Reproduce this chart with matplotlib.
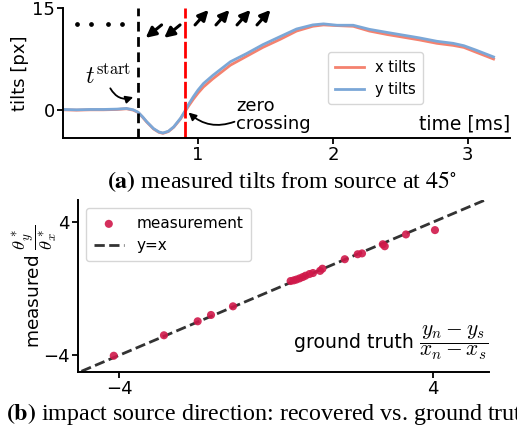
import matplotlib
matplotlib.use("Agg")
import matplotlib.pyplot as plt

plt.rcParams['font.family'] = ['DejaVu Sans']
plt.rcParams['mathtext.fontset'] = 'cm'

# ---- panel (a) data ----
time_ms = [0.0, 0.1, 0.2, 0.3, 0.4, 0.47, 0.52, 0.556, 0.59, 0.62, 0.67, 0.71, 0.74, 0.78, 0.82,
           0.87, 0.9, 0.93, 0.965, 1.0, 1.04, 1.11, 1.24, 1.36, 1.48, 1.61, 1.73, 1.85, 1.93,
           2.03, 2.15, 2.27, 2.40, 2.52, 2.64, 2.77, 2.89, 2.97, 3.06, 3.19]
y_tilts = [0.1, 0.05, 0.1, 0.1, 0.15, 0.25, 0.05, -0.3, -1.0, -1.7, -2.7, -3.2, -3.35, -3.1, -2.45,
           -1.2, -0.25, 0.85, 1.96, 2.95, 3.9, 5.1, 7.1, 8.3, 9.6, 10.8, 11.9, 12.5, 12.65,
           12.45, 12.45, 11.85, 11.4, 11.0, 10.6, 10.1, 9.8, 9.45, 8.8, 7.8]
x_tilts = [0.05, 0.0, 0.05, 0.05, 0.1, 0.2, 0.0, -0.35, -1.05, -1.75, -2.75, -3.25, -3.4, -3.15, -2.5,
           -1.3, -0.35, 0.6, 1.6, 2.5, 3.4, 4.6, 6.6, 7.9, 9.2, 10.4, 11.6, 12.3, 12.5,
           12.4, 12.3, 11.6, 11.1, 10.7, 10.3, 9.8, 9.5, 9.2, 8.5, 7.5]
t_start = 0.556
t_zero = 0.9
dots_t = [0.10, 0.21, 0.33, 0.44]
dots_level = 12.6
down_tails_t = [0.73, 0.867]
up_tails_t = [0.978, 1.133, 1.289, 1.437]

# ---- panel (b) data ----
truth = [-4.14, -2.86, -2.0, -1.66, -1.1, 0.37, 0.45, 0.52, 0.6, 0.68, 0.75, 0.85, 0.94,
         1.12, 1.18, 1.75, 2.08, 2.19, 2.72, 2.77, 3.31, 4.05]
measured = [-4.03, -2.8, -1.96, -1.58, -1.06, 0.46, 0.5, 0.55, 0.62, 0.7, 0.78, 0.88, 0.94,
            1.07, 1.2, 1.77, 2.07, 2.12, 2.67, 2.55, 3.26, 3.52]

fig = plt.figure(figsize=(5.17, 4.37), dpi=100)

# ================= panel (a) =================
ax1 = fig.add_axes([0.122, 0.684, 0.864, 0.298])
ax1.plot(time_ms, x_tilts, color='#f4826f', lw=2, label='x tilts')
ax1.plot(time_ms, y_tilts, color='#7ba7d7', lw=2, label='y tilts')
ax1.axvline(t_start, color='black', lw=2, ls=(0, (3.5, 2)))
ax1.axvline(t_zero, color='red', lw=2, ls=(0, (6, 1.2)))
ax1.plot(dots_t, [dots_level] * len(dots_t), ls='none', marker='o', ms=2.4, color='black')
arrow_kw = dict(arrowstyle='-|>', color='black', lw=2.2, mutation_scale=15, shrinkA=0, shrinkB=0)
for tt in down_tails_t:
    ax1.annotate('', xy=(tt - 0.118, 10.6), xytext=(tt, 12.5), arrowprops=arrow_kw)
for tt in up_tails_t:
    ax1.annotate('', xy=(tt + 0.1, 14.7), xytext=(tt, 12.5), arrowprops=arrow_kw)
ax1.text(0.33, 4.9, r'$t^{\mathrm{start}}$', fontsize=17, ha='center', va='center')
ax1.annotate('', xy=(0.52, 1.9), xytext=(0.35, 3.2),
             arrowprops=dict(arrowstyle='-|>', color='black', lw=1.3, mutation_scale=11,
                             connectionstyle='arc3,rad=0.4', shrinkA=0, shrinkB=0))
ax1.text(1.28, -0.7, 'zero\ncrossing', fontsize=13, ha='left', va='center', linespacing=1.0)
ax1.annotate('', xy=(0.93, -0.35), xytext=(1.27, -1.7),
             arrowprops=dict(arrowstyle='-|>', color='black', lw=1.3, mutation_scale=11,
                             connectionstyle='arc3,rad=-0.3', shrinkA=0, shrinkB=0))
ax1.text(1.0, 0.11, 'time [ms]', transform=ax1.transAxes, ha='right', va='center', fontsize=13.5)
ax1.set_xlim(0, 3.31)
ax1.set_ylim(-4.1, 15)
ax1.set_xticks([1, 2, 3])
ax1.set_yticks([0, 15])
ax1.set_ylabel('tilts [px]', fontsize=13, labelpad=2)
ax1.legend(loc='lower right', bbox_to_anchor=(0.805, 0.26), borderaxespad=0, fontsize=10.5,
           handlelength=2.0, handletextpad=0.7, frameon=True, borderpad=0.5)

# ================= panel (b) =================
ax2 = fig.add_axes([0.151, 0.149, 0.795, 0.393])
ax2.plot([-6, 6], [-6, 6], color='#333333', lw=2, ls=(0, (3.7, 1.6)), label='y=x', zorder=2)
ax2.scatter(truth, measured, s=34, color='#d0184a', alpha=0.9, edgecolors='none',
            label='measurement', zorder=3)
ax2.set_xlim(-5.05, 5.43)
ax2.set_ylim(-5.0, 5.32)
ax2.set_xticks([-4, 4])
ax2.set_yticks([-4, 4])
ax2.set_ylabel(r'measured $\dfrac{\theta_y^*}{\theta_x^*}$', fontsize=13.3)
ax2.yaxis.set_label_coords(-0.045, 0.5)
frac = ax2.text(1.0, 0.17, r'$\dfrac{y_n - y_s}{x_n - x_s}$', transform=ax2.transAxes,
                ha='right', va='center', fontsize=15.5)
ax2.annotate('ground truth ', xy=(0.0, 0.5), xycoords=frac, ha='right', va='center',
             fontsize=13.6)
handles, labels = ax2.get_legend_handles_labels()
ax2.legend([handles[1], handles[0]], [labels[1], labels[0]], loc='upper left',
           bbox_to_anchor=(0.019, 0.953), borderaxespad=0, fontsize=11, handlelength=2.0,
           frameon=True, borderpad=0.5)

for ax in (ax1, ax2):
    for s in ('top', 'right'):
        ax.spines[s].set_visible(False)
    for s in ('left', 'bottom'):
        ax.spines[s].set_linewidth(1.4)
    ax.tick_params(labelsize=13, length=4, width=1.3, pad=2)

# ================= captions =================
fig.text(0.545, 0.585, r'$\mathbf{(a)}$ measured tilts from source at $45^{\circ}$',
         ha='center', va='center', fontsize=17.3, family='Liberation Serif', math_fontfamily='stix')
fig.text(0.012, 0.053, r'$\mathbf{(b)}$ impact source direction: recovered vs. ground truth',
         ha='left', va='center', fontsize=17.3, family='Liberation Serif', math_fontfamily='stix')

fig.savefig('out.png', dpi=100)
